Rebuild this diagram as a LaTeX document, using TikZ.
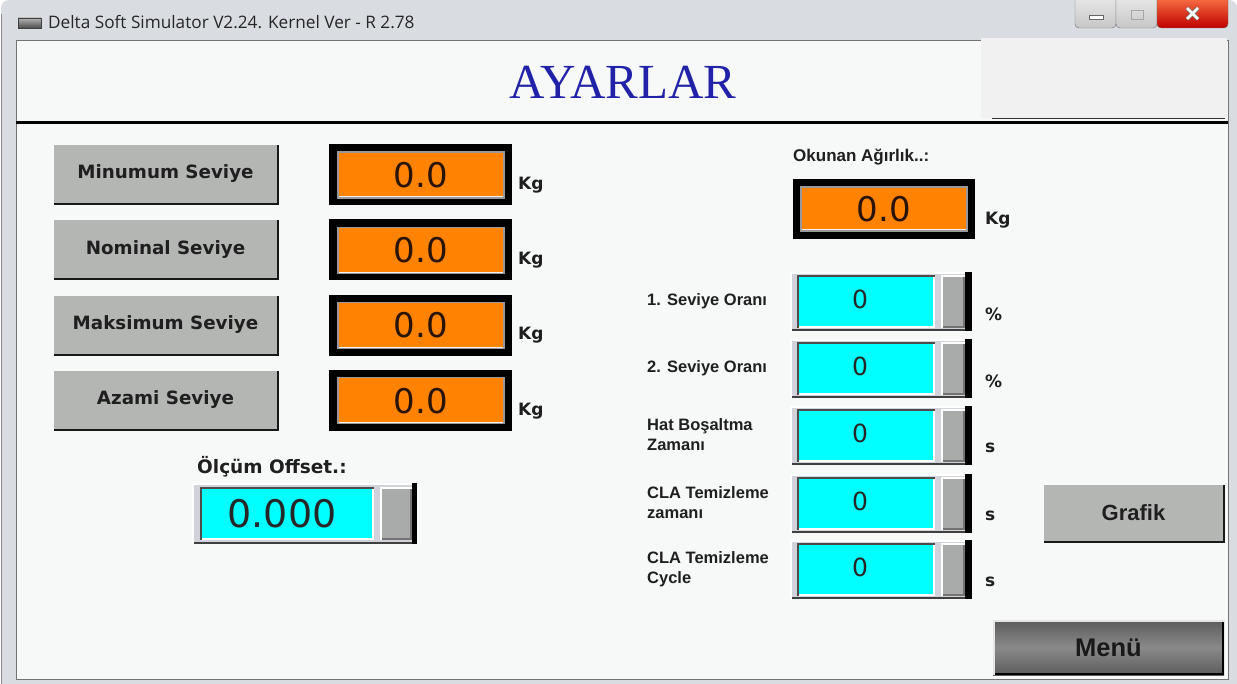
\documentclass[tikz,border=0pt]{standalone}
\usepackage{fontspec}
\setmainfont{DejaVu Sans}
\newfontfamily\dv{DejaVu Sans}
\newfontfamily\lsans{Liberation Sans}
\newfontfamily\osans{Open Sans}
\newfontfamily\hserif{Liberation Serif}
\definecolor{framec}{HTML}{D9DDE2}
\definecolor{bgc}{HTML}{F6F9F7}
\definecolor{btngray}{HTML}{B4B6B4}
\definecolor{orng}{HTML}{FF8200}
\definecolor{cyn}{HTML}{00FFFF}
\definecolor{knob}{HTML}{A9AAAA}
\definecolor{wframe}{HTML}{D2D2DA}
\definecolor{headblue}{HTML}{2222A8}
\definecolor{digit}{HTML}{2A1408}
\definecolor{boxgray}{HTML}{F0F1F0}
\newcommand\rbox[7]{%
 \pgfmathsetmacro\rbw{(#5)-(#3)}\pgfmathsetmacro\rbh{(#6)-(#4)}%
 \pgfmathsetmacro\rbx{((#3)+(#5))/2}\pgfmathsetmacro\rby{((#4)+(#6))/2}%
 \node[inner sep=0pt,outer sep=0pt,minimum width=\rbw pt,minimum height=\rbh pt,#2] (#1) at (\rbx,\rby) {#7};}
\newcommand\bevel[3]{%
 \draw[#3,line width=2pt] ([shift={(0pt,1pt)}]#1.south west) -- ([shift={(-1pt,1pt)}]#1.south east) -- ([shift={(-1pt,0pt)}]#1.north east);
 \draw[#2,line width=2pt] ([shift={(1pt,0pt)}]#1.south west) -- ([shift={(1pt,-1pt)}]#1.north west) -- ([shift={(0pt,-1pt)}]#1.north east);}
\tikzset{
 btn/.style={fill=btngray,font=\dv\bfseries\fontsize{18.3}{22}\selectfont,text=black!88},
 orout/.style={fill=black},
 orin/.style={fill=orng,draw=black!40,line width=1.2pt,font=\dv\fontsize{34}{38}\selectfont,text=digit},
 cyin/.style={fill=cyn},
 cytxt/.style={inner sep=0pt,font=\dv\fontsize{25}{28}\selectfont,text=black!85},
 unit/.style={anchor=west,inner sep=0pt,font=\dv\bfseries\fontsize{17}{20}\selectfont,text=black!88},
 rlab/.style={anchor=west,inner sep=0pt,align=left,font=\lsans\bfseries\fontsize{16.5}{20}\selectfont,text=black!88},
}
\begin{document}
\begin{tikzpicture}[x=1pt,y=-1pt]
\useasboundingbox (0,0) rectangle (1237,684);
% window frame
\fill[white] (0,0) rectangle (1237,684);
\fill[framec,rounded corners=8pt] (1,0) rectangle (1237,700);
\draw[black!45,line width=1pt] (1.5,14) -- (1.5,684);
\fill[bgc] (16,41) rectangle (1228,679);
\draw[black!55,line width=1pt] (16,41) rectangle (1228,679);
% title
\rbox{ticon}{top color=black!30,bottom color=black!70,draw=black!75,line width=.8pt}{18}{18}{41}{28}{}
\node[anchor=west,inner sep=0pt,font=\osans\fontsize{17.2}{19}\selectfont,text=black!85] (title) at (48,22) {Delta Soft Simulator V2.24. Kernel Ver - R 2.78};
% window buttons
\rbox{wmin}{top color=white!92!black,bottom color=black!22,draw=black!55,rounded corners=4pt}{1075}{-6}{1116}{28}{}
\rbox{wmax}{top color=white!92!black,bottom color=black!22,draw=black!55,rounded corners=4pt}{1116}{-6}{1157}{28}{}
\rbox{wcls}{top color=red!45!orange!70!white,bottom color=red!75!black,draw=black!55,rounded corners=4pt}{1157}{-6}{1228}{28}{}
\fill[white,draw=black!60,line width=.6pt] (1089,15) rectangle (1103,19);
\draw[black!35,line width=.8pt] (1131,10) rectangle (1143,19);
\draw[black!55,line width=4.2pt] (1187,8) -- (1198,19) (1198,8) -- (1187,19);
\draw[white,line width=2.6pt] (1187,8) -- (1198,19) (1198,8) -- (1187,19);
% header
\fill[boxgray] (981,38) rectangle (1227,118);
\draw[black!80,line width=1pt] (992,119) -- (1225,119);
\draw[black,line width=2.5pt] (16,122.5) -- (1228,122.5);
\node[inner sep=0pt,font=\hserif\fontsize{49}{52}\selectfont,text=headblue] (head) at (623,82) {AYARLAR};
% left column
\foreach \i/\txt in {0/Minumum Seviye,1/Nominal Seviye,2/Maksimum Seviye,3/Azami Seviye}{
 \pgfmathsetmacro\t{143+75.3*\i}
 \rbox{b\i}{btn}{52}{\t}{279}{\t+62}{\txt}
 \bevel{b\i}{white!95!gray}{black!90}
 \rbox{o\i}{orout}{329}{\t+1}{512}{\t+62}{}
 \rbox{oi\i}{orin}{338}{\t+9}{504}{\t+55}{0.0}
 \draw[white!90!gray,line width=1pt] ([shift={(1pt,1pt)}]oi\i.south west) -- ([shift={(-1pt,1pt)}]oi\i.south east);
 \node[unit] (kg\i) at (518,\t+42) {Kg};
}
% offset
\node[anchor=west,inner sep=0pt,font=\dv\bfseries\fontsize{18.5}{21}\selectfont,text=black!88] (offl) at (197,467) {Ölçüm Offset.:};
\rbox{offf}{fill=wframe}{192}{483}{417}{544}{}
\bevel{offf}{white}{black!75}
\rbox{offv}{cyin}{200}{487}{374}{540}{}
\bevel{offv}{black!70}{white}
\node[inner sep=0pt,font=\dv\fontsize{38}{42}\selectfont,text=black!85] (offt) at ([xshift=-5pt]offv.center) {0.000};
\rbox{offk}{fill=knob}{380}{487}{412}{540}{}
\bevel{offk}{white}{black!55}
\rbox{offs}{fill=black}{412}{483}{417}{544}{}
% right column
\node[anchor=west,inner sep=0pt,font=\lsans\bfseries\fontsize{17}{20}\selectfont,text=black!88] (okl) at (793,157) {Okunan Ağırlık..:};
\rbox{ok}{orout}{793}{179}{975}{239}{}
\rbox{oki}{orin}{801}{187}{967}{231}{0.0}
\draw[white!90!gray,line width=1pt] ([shift={(1pt,1pt)}]oki.south west) -- ([shift={(-1pt,1pt)}]oki.south east);
\node[unit] (okkg) at (985,220) {Kg};
\foreach \i/\t/\lab/\u in {1/272/{1. Seviye Oranı}/\%,2/339/{2. Seviye Oranı}/\%,3/406/{Hat Boşaltma\\Zamanı}/s,4/474/{CLA Temizleme\\zamanı}/s,5/540/{CLA Temizleme\\Cycle}/s}{
 \rbox{cf\i}{fill=wframe}{790}{\t}{972}{\t+59}{}
 \bevel{cf\i}{white}{black!75}
 \rbox{cv\i}{cyin}{797}{\t+3}{935}{\t+56}{}
 \bevel{cv\i}{black!70}{white}
 \node[cytxt] (ct\i) at ([xshift=-6pt,yshift=2pt]cv\i.center) {0};
 \rbox{ck\i}{fill=knob}{941}{\t+3}{965}{\t+56}{}
 \bevel{ck\i}{white}{black!55}
 \rbox{cs\i}{fill=black}{965}{\t}{972}{\t+59}{}
 \node[rlab] (cl\i) at (647,\t+29) {\lab};
 \node[unit] (cu\i) at (985,\t+42) {\u};
}
% Grafik button
\rbox{graf}{fill=btngray,font=\lsans\bfseries\fontsize{22}{26}\selectfont,text=black!88}{1042}{483}{1225}{543}{Grafik}
\bevel{graf}{white!95!gray}{black!90}
% Menu button
\rbox{menu}{top color=black!64,bottom color=black!64,middle color=black!46,font=\lsans\bfseries\fontsize{25.5}{28}\selectfont,text=black!90}{993}{620}{1224}{675}{Menü}
\bevel{menu}{white!80!gray}{black}
\end{tikzpicture}
\end{document}
